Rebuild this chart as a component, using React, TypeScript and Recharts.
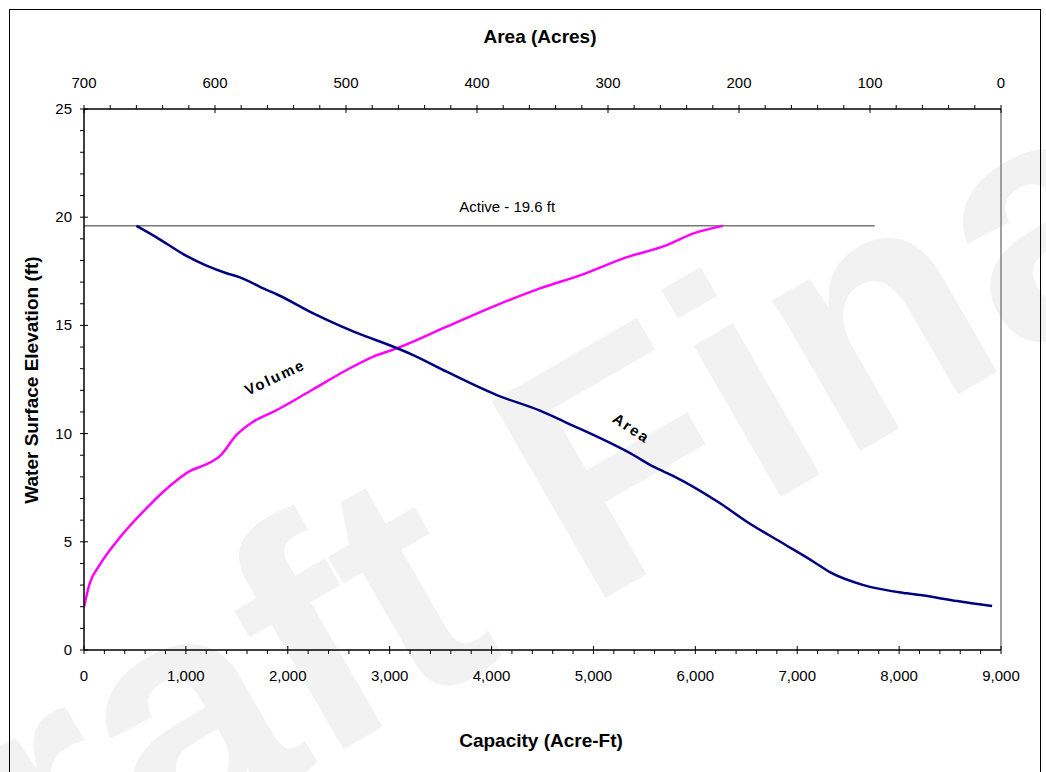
import React from "react";
import { LineChart, Line, XAxis, YAxis, ReferenceLine, ReferenceDot } from "recharts";

// volume curve: capacity (acre-ft) vs water surface elevation (ft)
const volCapacity = [0, 56, 154, 318, 580, 842, 1038, 1186, 1333, 1497, 1660, 1857, 2250, 2578, 2839, 3069, 3560, 4051, 4476, 4902, 5295, 5721, 5982, 6271];
const volElev = [2.0, 3.08, 3.93, 5.0, 6.39, 7.58, 8.27, 8.55, 8.96, 9.94, 10.55, 11.0, 12.05, 12.94, 13.56, 13.94, 14.94, 15.94, 16.71, 17.37, 18.1, 18.71, 19.25, 19.6];

// area curve: surface area (acres) vs elevation (ft)
const areaAcres = [660, 644.7, 621.8, 606.5, 591.2, 581.0, 560.7, 553.0, 525.0, 484.3, 471.6, 448.7, 423.2, 384.9, 351.9, 331.5, 280.6, 265.3, 250.0, 214.4, 194.0, 168.5, 143.1, 130.3, 104.9, 71.7, 61.6, 33.5, 6.8];
const areaElev = [19.6, 19.07, 18.21, 17.76, 17.41, 17.22, 16.64, 16.44, 15.56, 14.48, 14.2, 13.63, 12.86, 11.78, 11.06, 10.5, 9.01, 8.47, 8.04, 6.78, 5.93, 5.0, 4.08, 3.59, 3.0, 2.62, 2.54, 2.26, 2.03];

const activeElev = 19.6;
const activeEndCapacity = 7760;

const capMajor = [0, 1000, 2000, 3000, 4000, 5000, 6000, 7000, 8000, 9000];
const acreMajor = [0, 100, 200, 300, 400, 500, 600, 700];
const elevMajor = [0, 5, 10, 15, 20, 25];

const steps = (max: number, step: number) => {
  const out: number[] = [];
  for (let v = 0; v <= max + 1e-9; v += step) out.push(Math.round(v * 100) / 100);
  return out;
};
const capTicks = steps(9000, 200);
const acreTicks = steps(700, 20);
const elevTicks = steps(25, 1);

const volumeData = volCapacity.map((c, i) => ({ cap: c, elev: volElev[i] }));
const areaData = areaAcres.map((a, i) => ({ acres: a, elev: areaElev[i] }));

const FONT = "'Liberation Sans', Arial, sans-serif";

const BottomTick = (p: any) => {
  const v = p.payload.value;
  const major = capMajor.includes(v);
  return (
    <g>
      <line x1={p.x} x2={p.x} y1={major ? p.y - 4 : p.y} y2={p.y + 4} stroke="#000" />
      {major && (
        <text x={p.x} y={p.y + 31} textAnchor="middle" fontSize={15} fill="#000">
          {v.toLocaleString("en-US")}
        </text>
      )}
    </g>
  );
};

const TopTick = (p: any) => {
  const v = p.payload.value;
  const major = acreMajor.includes(v);
  return (
    <g>
      <line x1={p.x} x2={p.x} y1={p.y - 4} y2={major ? p.y + 4 : p.y} stroke="#000" />
      {major && (
        <text x={p.x} y={p.y - 21} textAnchor="middle" fontSize={15} fill="#000">
          {v}
        </text>
      )}
    </g>
  );
};

const LeftTick = (p: any) => {
  const v = p.payload.value;
  const major = elevMajor.includes(v);
  return (
    <g>
      <line x1={p.x - 4} x2={major ? p.x + 4 : p.x} y1={p.y} y2={p.y} stroke="#000" />
      {major && (
        <text x={p.x - 12} y={p.y + 5} textAnchor="end" fontSize={15} fill="#000">
          {v}
        </text>
      )}
    </g>
  );
};

const curveLabel = (text: string, angle: number) => (p: any) => (
  <text
    x={p.cx}
    y={p.cy}
    transform={`rotate(${angle} ${p.cx} ${p.cy})`}
    textAnchor="middle"
    dominantBaseline="middle"
    fontSize={15}
    fontWeight="bold"
    letterSpacing={2}
    fill="#000"
  >
    {text}
  </text>
);

const activeLabel = (p: any) => (
  <text x={p.cx} y={p.cy - 14} textAnchor="middle" fontSize={15} fill="#000">
    Active - 19.6 ft
  </text>
);

export default function App() {
  return (
    <div style={{ position: "absolute", left: 0, top: 0, width: 1046, height: 772, background: "#fff", fontFamily: FONT, overflow: "hidden" }}>
      <svg width={1046} height={772} style={{ position: "absolute", left: 0, top: 0 }}>
        <text
          x={-160}
          y={1040}
          transform="rotate(-30 -160 1040)"
          fontSize={330}
          fontWeight="bold"
          fill="#f2f2f2"
          fontFamily={FONT}
        >
          Draft Final
        </text>
      </svg>
      <div style={{ position: "absolute", left: 0, top: 0 }}>
        <LineChart width={1046} height={772} margin={{ top: 79, right: 45, bottom: 92, left: 0 }}>
          <XAxis
            xAxisId="bottom"
            dataKey="cap"
            type="number"
            domain={[0, 9000]}
            ticks={capTicks}
            interval={0}
            tick={<BottomTick />}
            tickLine={false}
            tickSize={0}
            tickMargin={0}
            height={30}
            axisLine={{ stroke: "#000", strokeWidth: 1.5 }}
            allowDataOverflow
          />
          <XAxis
            xAxisId="top"
            orientation="top"
            dataKey="acres"
            type="number"
            domain={[0, 700]}
            reversed
            ticks={acreTicks}
            interval={0}
            tick={<TopTick />}
            tickLine={false}
            tickSize={0}
            tickMargin={0}
            height={30}
            axisLine={{ stroke: "#000", strokeWidth: 1.5 }}
            allowDataOverflow
          />
          <YAxis
            type="number"
            domain={[0, 25]}
            ticks={elevTicks}
            interval={0}
            tick={<LeftTick />}
            tickLine={false}
            tickSize={0}
            tickMargin={0}
            width={84}
            axisLine={{ stroke: "#000", strokeWidth: 1.5 }}
            allowDataOverflow
          />
          <ReferenceLine xAxisId="bottom" x={9000} stroke="#808080" strokeWidth={1.5} />
          <ReferenceLine
            xAxisId="bottom"
            segment={[{ x: 0, y: activeElev }, { x: activeEndCapacity, y: activeElev }]}
            stroke="#333"
            strokeWidth={1}
          />
          <Line
            xAxisId="bottom"
            data={volumeData}
            dataKey="elev"
            type="monotone"
            stroke="#ff00ff"
            strokeWidth={2.5}
            dot={false}
            activeDot={false}
            isAnimationActive={false}
          />
          <Line
            xAxisId="top"
            data={areaData}
            dataKey="elev"
            type="monotone"
            stroke="#000080"
            strokeWidth={2.5}
            dot={false}
            activeDot={false}
            isAnimationActive={false}
          />
          <ReferenceDot xAxisId="bottom" x={1880} y={12.55} r={0} shape={curveLabel("Volume", -25)} />
          <ReferenceDot xAxisId="bottom" x={5367} y={10.2} r={0} shape={curveLabel("Area", 34)} />
          <ReferenceDot xAxisId="bottom" x={4153} y={activeElev} r={0} shape={activeLabel} />
        </LineChart>
      </div>
      <svg width={1046} height={772} style={{ position: "absolute", left: 0, top: 0, pointerEvents: "none" }}>
        <rect x={9.5} y={9.5} width={1031} height={800} fill="none" stroke="#000" strokeWidth={1} />
        <text x={540} y={43} textAnchor="middle" fontSize={19} fontWeight="bold" fontFamily={FONT}>
          Area (Acres)
        </text>
        <text x={541} y={747} textAnchor="middle" fontSize={19} fontWeight="bold" fontFamily={FONT}>
          Capacity (Acre-Ft)
        </text>
        <text
          x={33}
          y={380}
          transform="rotate(-90 33 380)"
          textAnchor="middle"
          dominantBaseline="middle"
          fontSize={19}
          fontWeight="bold"
          fontFamily={FONT}
        >
          Water Surface Elevation (ft)
        </text>
      </svg>
    </div>
  );
}
